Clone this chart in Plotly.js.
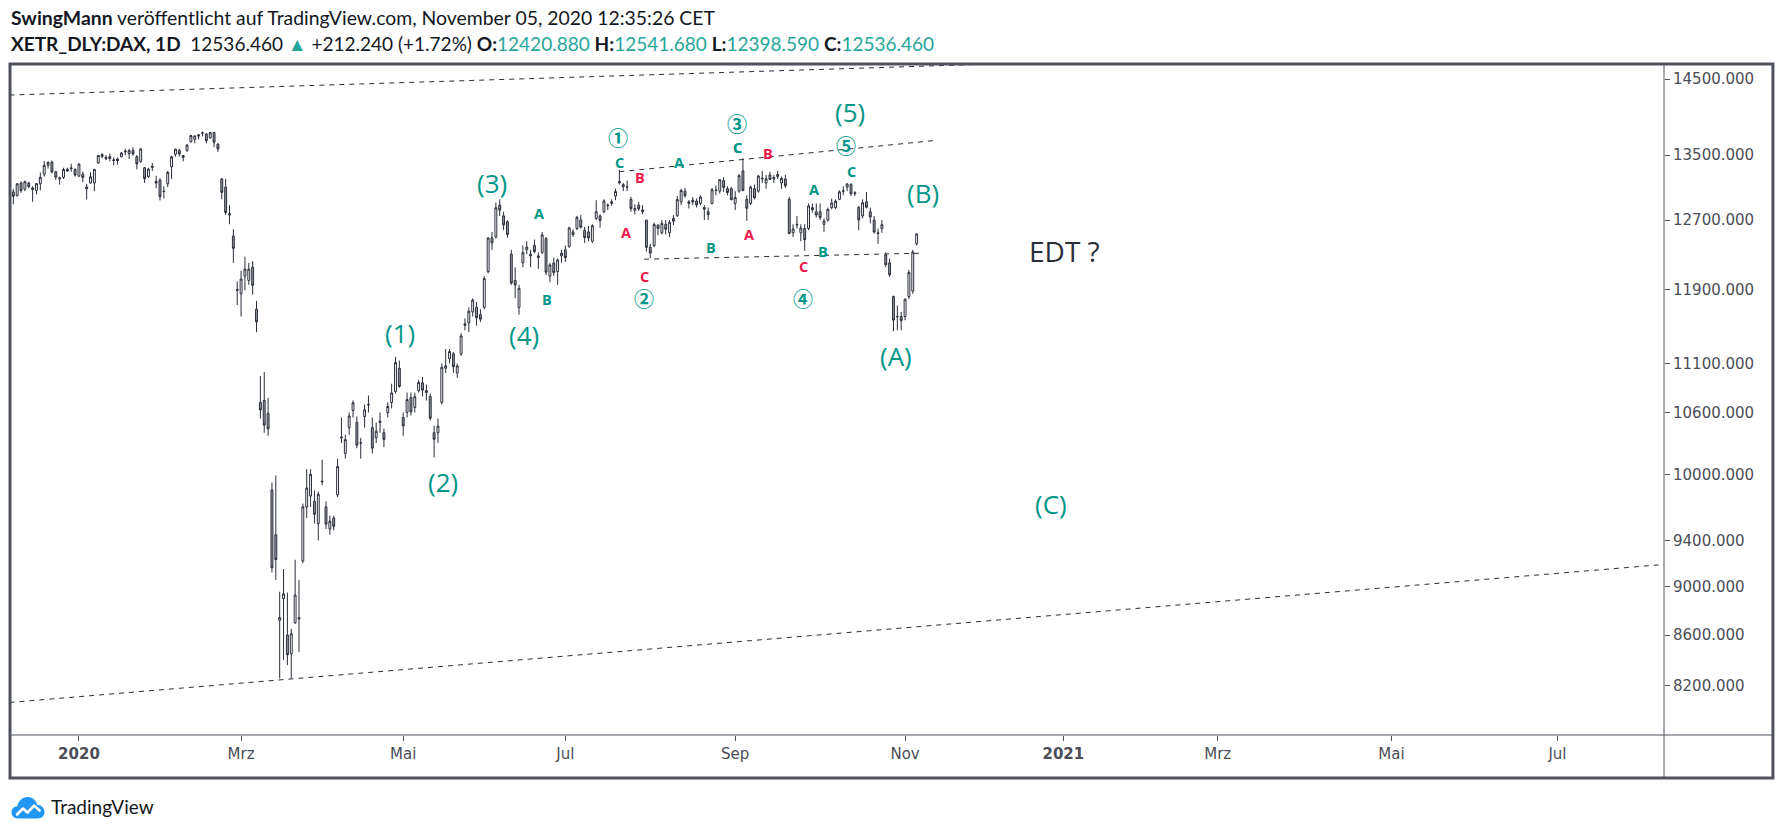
<!DOCTYPE html>
<html>
<head>
<meta charset="utf-8">
<script src="https://cdn.plot.ly/plotly-3.0.1.min.js"></script>
<style>
  html, body { margin: 0; padding: 0; background: #ffffff; }
  #chart { width: 1783px; height: 834px; }
</style>
</head>
<body>
<div id="chart"></div>
<script>
// XETR_DLY:DAX daily candles, 3 Dec 2019 – 5 Nov 2020 (one row per month)
const open = [
  13040,12995,13150,13075,13150,13090,13060,13140,13260,13370,13410,13290,13200,13220,13320,13330,13320,
  13234,13260,13100,13150,13150,13400,13505,13470,13480,13440,13450,13480,13540,13520,13560,13480,13420,13340,13230,13360,13170,13185,
  13050,13140,13350,13510,13560,13470,13560,13670,13700,13760,13780,13770,13720,13790,13640,13200,13100,12760,12510,11900,
  11850,12050,12000,12150,11680,10700,10720,10590,9855,9450,8720,8900,8600,8450,8700,8730,9220,9700,9800,9750,9550,9930,
  9700,9500,9600,9810,10350,10200,10450,10620,10500,10300,10560,10680,10450,10350,10500,10400,10600,10700,10810,11050,
  10550,10600,10750,10650,10820,10900,10800,10760,10400,10400,10700,11050,11150,11200,11000,11200,11520,11530,11650,11700,
  11620,11700,12100,12490,12500,12880,12750,12680,12300,12000,11700,12200,12350,12300,12400,12280,12320,12480,12050,12200,12100,12280,
  12350,12390,12560,12600,12700,12580,12560,12450,12720,12750,12800,12880,12900,12990,13150,13130,13100,12950,12820,12880,12800,12700,12380,
  12400,12640,12550,12650,12550,12720,12750,12920,13050,12920,12940,12930,12900,12850,12800,12900,13060,13050,13180,13080,13080,
  12900,13050,13300,12950,12900,13080,13050,13200,13150,13250,13200,13230,13150,13200,12950,12550,12650,12550,12600,12600,12850,12800,
  12800,12650,12700,12850,12850,12950,13050,13100,13130,13020,12850,12750,12920,12800,12700,12550,12600,12290,12200,11820,11600,11600,
  11600,11820,11880,12420.88
];
const high = [
  13075,13150,13170,13180,13165,13110,13150,13280,13425,13420,13430,13300,13230,13340,13340,13390,13330,
  13397,13290,13140,13283,13320,13500,13525,13500,13520,13470,13470,13540,13580,13580,13600,13500,13590,13350,13340,13400,13240,13210,
  13110,13300,13490,13580,13580,13500,13640,13760,13750,13770,13800,13780,13795,13795,13650,13210,13200,12880,12590,11990,
  12110,12270,12200,12220,11770,10970,11010,10745,9925,9990,8957,9150,8950,8650,9230,9057,9730,10050,10050,9850,9840,10140,
  9750,9620,9620,10150,10550,10380,10600,10720,10560,10350,10680,10770,10550,10500,10600,10440,10700,10890,11170,11130,
  10600,10800,10800,10800,10930,10960,10880,10790,10470,10540,11100,11250,11250,11220,11100,11420,11580,11700,11800,11760,
  11680,12050,12500,12560,12910,12950,12800,12700,12350,12150,11950,12400,12450,12350,12470,12320,12560,12500,12200,12260,12250,12350,
  12400,12620,12590,12750,12760,12620,12630,12650,12940,12770,12950,12900,12950,13080,13313,13150,13180,12980,12890,12920,12880,12700,12420,
  12670,12650,12700,12700,12700,12760,12990,13080,13090,12940,12980,12960,13000,12880,12850,13090,13120,13200,13220,13110,13100,
  13050,13260,13460,13000,13120,13130,13250,13300,13250,13290,13250,13300,13230,13250,12980,12650,12750,12650,12650,12900,12900,12900,
  12900,12720,12850,12960,12950,13060,13110,13150,13150,13050,12870,12950,13040,12850,12750,12600,12700,12320,12250,11830,11720,11650,
  11800,12120,12350,12541.68
];
const low = [
  12890,12985,13030,13050,13085,12920,13010,13060,13230,13330,13270,13190,13130,13200,13290,13290,13230,
  13234,13160,12948,13140,13050,13390,13460,13440,13420,13370,13380,13470,13500,13450,13490,13320,13400,13150,13210,13300,13085,12935,
  12960,13100,13200,13480,13480,13420,13540,13660,13650,13700,13740,13650,13710,13600,13540,12950,12760,12650,12200,11725,
  11600,11890,11950,11840,11430,10540,10400,10370,9120,9057,8256,8400,8360,8256,8690,8465,9200,9600,9700,9550,9400,9900,
  9500,9450,9490,9790,10300,10150,10380,10550,10250,10150,10450,10600,10200,10300,10400,10260,10550,10640,10790,10850,
  10370,10550,10570,10600,10800,10760,10720,10520,10160,10300,10680,11000,11100,11000,10950,11180,11450,11430,11600,11500,
  11540,11680,12080,12350,12480,12750,12580,12490,11950,11800,11620,12150,12300,12150,12310,12130,12300,12060,11980,12050,11950,12200,
  12210,12370,12500,12580,12600,12430,12450,12430,12700,12610,12780,12820,12870,12940,13130,13050,13050,12800,12770,12810,12770,12330,12253,
  12380,12520,12530,12530,12500,12640,12740,12880,12970,12840,12880,12850,12880,12700,12700,12890,13000,13020,13040,13000,12940,
  12820,13030,13050,12690,12880,12950,13030,13150,13080,13190,13150,13200,13080,13090,12530,12500,12600,12450,12340,12580,12790,12730,
  12700,12560,12680,12830,12830,12940,13000,13050,12990,12990,12580,12720,12840,12660,12540,12420,12550,12150,12040,11440,11450,11450,
  11560,11790,11850,12398.59
];
const close = [
  12989,13140,13055,13167,13105,13071,13142,13221,13370,13407,13288,13222,13212,13319,13300,13337,13249,
  13386,13219,13080,13227,13320,13495,13483,13452,13457,13432,13430,13526,13549,13556,13515,13388,13577,13205,13324,13345,13150,12982,
  13046,13282,13479,13575,13514,13494,13628,13750,13745,13745,13784,13682,13790,13665,13579,13035,12791,12775,12367,11890,
  12015,12128,12128,11945,11542,10625,10475,10439,9161,9232,8742,8939,8442,8610,8929,8741,9701,9874,10001,9633,9816,9936,
  9544,9571,9526,10075,10357,10333,10565,10697,10280,10302,10626,10676,10250,10415,10514,10336,10660,10796,11108,10862,
  10467,10729,10606,10759,10904,10825,10820,10543,10337,10465,11059,11075,11224,11066,11074,11391,11505,11657,11781,11587,
  11571,12021,12487,12431,12848,12820,12642,12530,11970,11949,11911,12316,12382,12281,12331,12262,12524,12093,12177,12089,12232,12311,
  12260,12608,12528,12733,12616,12494,12489,12633,12800,12697,12931,12874,12920,13046,13171,13104,13103,12838,12839,12835,12822,12379,12313,
  12647,12601,12660,12591,12674,12687,12947,13058,12993,12901,12920,12882,12977,12830,12765,13067,13062,13191,13096,13033,12945,
  12974,13243,13057,12842,13100,12968,13237,13209,13202,13194,13218,13255,13208,13116,12542,12594,12643,12606,12469,12870,12825,12761,
  12731,12689,12828,12906,12928,13042,13051,13138,13018,13028,12703,12909,12854,12737,12558,12543,12645,12178,12063,11561,11598,11556,
  11789,12089,12324.22,12536.46
];

// Exchange holidays (no session); weekends are skipped as well
const holidays = ['2019-12-24','2019-12-25','2019-12-26','2019-12-31','2020-01-01','2020-04-10',
                  '2020-04-13','2020-05-01','2020-12-24','2020-12-25','2020-12-31','2021-01-01'];

// Axis labels
const yTickVals = [14500, 13500, 12700, 11900, 11100, 10600, 10000, 9400, 9000, 8600, 8200];
const xTickVals = ['2020-01-02 12:00','2020-03-02 12:00','2020-05-04 12:00','2020-07-01 12:00','2020-09-01 12:00',
                   '2020-11-02 12:00','2021-01-04 12:00','2021-03-01 12:00','2021-05-03 12:00','2021-07-01 12:00'];
const xTickText = ['<b>2020</b>','Mrz','Mai','Jul','Sep','Nov','<b>2021</b>','Mrz','Mai','Jul'];

// Elliott wave count: primary degree
const majorText  = ['(1)','(2)','(3)','(4)','(5)','(A)','(B)','(C)'];
const majorDate  = ['2020-04-30 17:00','2020-05-18 19:00','2020-06-04 12:00','2020-06-16 19:00',
                    '2020-10-13 05:00','2020-10-29 05:00','2020-11-09 05:00','2020-12-28 07:00'];
const majorPrice = [11427, 9927, 13151, 11395, 14060, 11173, 13028, 9725];

// Intermediate degree (circled)
const circleText  = ['①','②','③','④','⑤'];
const circleDate  = ['2020-07-21 02:00','2020-07-29 22:00','2020-09-02 00:00','2020-09-25 02:00','2020-10-12 05:00'];
const circlePrice = [13731, 11803, 13900, 11803, 13620];

// Minor sub-waves: t = teal, r = red
const minorText  = ['A','B','C','A','C','B','C','A','B','C',   'B','A','C','B','A','C'];
const minorTone  = ['t','t','t','t','t','t','t','t','t','t',   'r','r','r','r','r','r'];
const minorDate  = ['2020-06-22 17:00','2020-06-24 17:00','2020-07-21 10:00','2020-08-11 22:00',
                    '2020-09-02 05:00','2020-08-24 05:00','2020-10-13 12:00','2020-09-29 22:00',
                    '2020-10-02 05:00','2020-09-02 05:00',
                    '2020-07-28 19:00','2020-07-23 05:00','2020-07-30 02:00','2020-09-14 01:00',
                    '2020-09-07 02:00','2020-09-25 07:00'];
const minorPrice = [12773, 11792, 13412, 13400, 13591, 12372, 13299, 13066, 12326, 13591,
                    13213, 12558, 12050, 13526, 12534, 12153];

// Trend lines: [start date, start price, end date, end price]
const lineOuterTop    = ['2019-12-02 12:00', 14283, '2021-01-18 12:00', 14754];
const lineOuterBottom = ['2019-12-02 12:00', 8072,  '2021-08-23 12:00', 9227];
const lineUpper       = ['2020-07-21 12:00', 13290, '2020-11-11 19:00', 13684];
const lineLower       = ['2020-07-29 22:00', 12242, '2020-11-09 05:00', 12311];

// Session calendar
function sessions(startISO, n) {
  const out = [];
  const d = new Date(startISO + 'T00:00:00Z');
  while (out.length < n) {
    const dow = d.getUTCDay();
    const iso = d.toISOString().slice(0, 10);
    if (dow !== 0 && dow !== 6 && holidays.indexOf(iso) < 0) out.push(iso + ' 12:00');
    d.setUTCDate(d.getUTCDate() + 1);
  }
  return out;
}
const dates = sessions('2019-12-03', close.length);

const TEAL = '#009688';
const RED = '#f0174b';
const INK = '#131722';
const AXIS = '#50535e';
const LABEL = '#4a4d57';
const VALUE = '#26a69a';

const candles = {
  type: 'candlestick',
  x: dates, open: open, high: high, low: low, close: close,
  increasing: { line: { color: '#2a2e39', width: 1 }, fillcolor: '#ffffff' },
  decreasing: { line: { color: '#2a2e39', width: 1 }, fillcolor: '#9598a1' },
  whiskerwidth: 0,
  hoverinfo: 'skip',
  showlegend: false
};

function trend(l) {
  return {
    type: 'scatter', mode: 'lines',
    x: [l[0], l[2]], y: [l[1], l[3]],
    line: { color: '#2a2e39', width: 1, dash: '5px,5px' },
    hoverinfo: 'skip', showlegend: false
  };
}

const annotations = [];
function addLabel(text, date, price, color, size, family, weight) {
  annotations.push({
    x: date, y: Math.log10(price), xref: 'x', yref: 'y',
    text: text, showarrow: false, xanchor: 'center', yanchor: 'middle',
    font: { family: family, size: size, color: color, weight: weight || 'normal' }
  });
}
const LABEL_FONT = 'Open Sans, DejaVu Sans, sans-serif';
majorText.forEach((t, i) => addLabel(t, majorDate[i], majorPrice[i], TEAL, 26, LABEL_FONT));
circleText.forEach((t, i) => addLabel(t, circleDate[i], circlePrice[i], TEAL, 20, 'Noto Sans CJK JP, sans-serif', 'bold'));
minorText.forEach((t, i) => addLabel(t, minorDate[i], minorPrice[i], minorTone[i] === 't' ? TEAL : RED, 14.5, LABEL_FONT, 'bold'));

// Study note
annotations.push({
  x: '2021-01-04 17:00', y: Math.log10(12338), xref: 'x', yref: 'y',
  text: 'EDT ?', showarrow: false, xanchor: 'center', yanchor: 'middle',
  font: { family: 'Open Sans, sans-serif', size: 28, color: '#2a2e39' }
});

// Header built from the last session
const n = close.length - 1;
const chg = close[n] - close[n - 1];
const pct = chg / close[n - 1] * 100;
const f3 = v => v.toFixed(3);
const val = v => '<span style="color:' + VALUE + '">' + f3(v) + '</span>';
annotations.push({
  xref: 'paper', yref: 'paper', x: -0.0012, y: 1.0716, xanchor: 'left', yanchor: 'middle',
  showarrow: false, align: 'left',
  text: '<b>SwingMann</b> veröffentlicht auf TradingView.com, November 05, 2020 12:35:26 CET',
  font: { family: 'Lato, sans-serif', size: 19.4, color: INK }
});
annotations.push({
  xref: 'paper', yref: 'paper', x: -0.0012, y: 1.0328, xanchor: 'left', yanchor: 'middle',
  showarrow: false, align: 'left',
  text: '<b>XETR_DLY:DAX, 1D</b>  ' + f3(close[n]) + ' <span style="color:' + VALUE + '">▲</span>' +
        ' +' + f3(chg) + ' (+' + pct.toFixed(2) + '%) ' +
        '<b>O:</b>' + val(open[n]) + ' <b>H:</b>' + val(high[n]) +
        ' <b>L:</b>' + val(low[n]) + ' <b>C:</b>' + val(close[n]),
  font: { family: 'Lato, sans-serif', size: 19, color: INK }
});
annotations.push({
  xref: 'paper', yref: 'paper', x: 0.0230, y: -0.1060, xanchor: 'left', yanchor: 'middle',
  showarrow: false, text: 'TradingView',
  font: { family: 'Lato, sans-serif', size: 19, color: INK }
});

const logoSvg =
  '<svg xmlns="http://www.w3.org/2000/svg" width="34" height="24" viewBox="0 0 34 24">' +
  '<path d="M7 23.5C3 23.5 0.5 20.8 0.5 17.3C0.5 13.9 3 11.4 6.3 11.2C7.2 6 11.3 2 16.5 2C21.3 2 25.2 5.3 26.2 9.8' +
  'C30.2 10 33.5 13.2 33.5 17C33.5 20.7 30.6 23.5 26.8 23.5Z" fill="#2196f3"/>' +
  '<path d="M6 19.5L12 13.5L16.5 17.5L23 10.5L28.5 15.5" stroke="#ffffff" stroke-width="2.6" fill="none" ' +
  'stroke-linejoin="round" stroke-linecap="round"/></svg>';
const logoSrc = 'data:image/svg+xml;base64,' + btoa(logoSvg);

const frame = { color: AXIS, width: 1 };
const shapes = [
  { type: 'rect', xref: 'paper', yref: 'paper', x0: -0.0006, x1: 1.0659, y0: -0.0642, y1: 1.0015,
    line: { color: AXIS, width: 3 }, fillcolor: 'rgba(0,0,0,0)', layer: 'above' },
  { type: 'line', xref: 'paper', yref: 'paper', x0: 1, x1: 1, y0: -0.0642, y1: 1.0015, line: frame, layer: 'above' },
  { type: 'line', xref: 'paper', yref: 'paper', x0: -0.0006, x1: 1.0659, y0: 0, y1: 0, line: frame, layer: 'above' }
];

const layout = {
  width: 1783, height: 834,
  margin: { l: 11, r: 119, t: 65, b: 99 },
  paper_bgcolor: '#ffffff', plot_bgcolor: '#ffffff',
  showlegend: false,
  hovermode: false,
  xaxis: {
    type: 'date',
    range: ['2019-12-02 21:36', '2021-08-10 02:24'],
    rangebreaks: [{ bounds: ['sat', 'mon'] }, { values: holidays }],
    rangeslider: { visible: false },
    tickmode: 'array', tickvals: xTickVals, ticktext: xTickText,
    ticks: 'outside', ticklen: 5, tickwidth: 1, tickcolor: AXIS,
    tickfont: { family: 'DejaVu Sans, sans-serif', size: 15, color: LABEL },
    showgrid: false, zeroline: false, showline: false, fixedrange: true
  },
  yaxis: {
    type: 'log', side: 'right',
    range: [Math.log10(7829), Math.log10(14692)],
    tickmode: 'array', tickvals: yTickVals, ticktext: yTickVals.map(v => v.toFixed(3)),
    ticks: 'outside', ticklen: 5, tickwidth: 1, tickcolor: AXIS,
    tickfont: { family: 'DejaVu Sans, sans-serif', size: 15, color: LABEL },
    showgrid: false, zeroline: false, showline: false, fixedrange: true
  },
  shapes: shapes,
  annotations: annotations,
  images: [{
    source: logoSrc, xref: 'paper', yref: 'paper',
    x: 0, y: -0.0896, sizex: 0.0206, sizey: 0.0358,
    xanchor: 'left', yanchor: 'top', sizing: 'stretch', layer: 'above'
  }]
};

const traces = [candles, trend(lineOuterTop), trend(lineOuterBottom), trend(lineUpper), trend(lineLower)];
Plotly.newPlot('chart', traces, layout, { staticPlot: true, displayModeBar: false });
</script>
</body>
</html>
